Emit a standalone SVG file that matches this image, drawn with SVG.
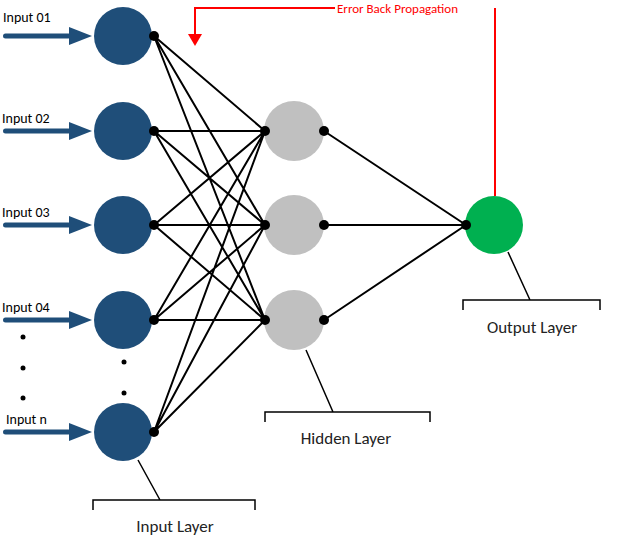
<svg xmlns="http://www.w3.org/2000/svg" width="629" height="538" viewBox="0 0 629 538">
<defs>
<style>
.in{fill:#1f4e79}.hid{fill:#c0c0c0}.out{fill:#00b050}
.c{stroke:#000;stroke-width:2;fill:none}
.br{stroke:#000;stroke-width:1.5;fill:none}
.d{fill:#000}
.t{font-family:Calibri,"Liberation Sans",sans-serif;font-size:14px;fill:#000}
.lt{font-family:Calibri,"Liberation Sans",sans-serif;font-size:17px;fill:#222;text-anchor:middle}
.ar{fill:#1f4e79}
</style>
</defs>
<g id="connectors">
<path class="c" d="M154,36L265,131M154,36L265,225M154,36L265,320M154,131L265,131M154,131L265,225M154,131L265,320M154,225L265,131M154,225L265,225M154,225L265,320M154,320L265,131M154,320L265,225M154,320L265,320M154,432L265,131M154,432L265,225M154,432L265,320M324,131L466,225M324,225L466,225M324,320L466,225"/>
<path d="M495,196V8M335,8H195V36" stroke="#ff0000" stroke-width="2" fill="none"/>
<polygon points="188,34 202,34 195,46" fill="#ff0000"/>
</g>
<g id="input-arrows">
<g id="arrow1"><rect x="3" y="33.5" width="68" height="5" rx="2.5" class="ar"/><polygon class="ar" points="69,27 92,36 69,45"/></g>
<g id="arrow2"><rect x="3" y="128.5" width="68" height="5" rx="2.5" class="ar"/><polygon class="ar" points="69,122 92,131 69,140"/></g>
<g id="arrow3"><rect x="3" y="222.5" width="68" height="5" rx="2.5" class="ar"/><polygon class="ar" points="69,216 92,225 69,234"/></g>
<g id="arrow4"><rect x="3" y="317.5" width="68" height="5" rx="2.5" class="ar"/><polygon class="ar" points="69,311 92,320 69,329"/></g>
<g id="arrow5"><rect x="3" y="429.5" width="68" height="5" rx="2.5" class="ar"/><polygon class="ar" points="69,423 92,432 69,441"/></g>
</g>
<g id="in1"><circle class="in" cx="123" cy="36" r="29"/><circle class="d" cx="154" cy="36" r="5"/><text class="t" x="3" y="22">Input 01</text></g>
<g id="in2"><circle class="in" cx="123" cy="131" r="29"/><circle class="d" cx="154" cy="131" r="5"/><text class="t" x="2" y="123">Input 02</text></g>
<g id="in3"><circle class="in" cx="123" cy="225" r="29"/><circle class="d" cx="154" cy="225" r="5"/><text class="t" x="2" y="217">Input 03</text></g>
<g id="in4"><circle class="in" cx="123" cy="320" r="29"/><circle class="d" cx="154" cy="320" r="5"/><text class="t" x="2" y="312">Input 04</text></g>
<g id="inn"><circle class="in" cx="123" cy="432" r="29"/><circle class="d" cx="154" cy="432" r="5"/><text class="t" x="6" y="424">Input n</text></g>
<g id="ellipsis"><circle class="d" cx="23" cy="337" r="2.5"/><circle class="d" cx="23" cy="368" r="2.5"/><circle class="d" cx="23" cy="398" r="2.5"/><circle class="d" cx="124" cy="362" r="2.5"/><circle class="d" cx="124" cy="393" r="2.5"/></g>
<g id="h1"><circle class="hid" cx="294" cy="131" r="30"/><circle class="d" cx="265" cy="131" r="5"/><circle class="d" cx="324" cy="131" r="5"/></g>
<g id="h2"><circle class="hid" cx="294" cy="225" r="30"/><circle class="d" cx="265" cy="225" r="5"/><circle class="d" cx="324" cy="225" r="5"/></g>
<g id="h3"><circle class="hid" cx="294" cy="320" r="30"/><circle class="d" cx="265" cy="320" r="5"/><circle class="d" cx="324" cy="320" r="5"/></g>
<g id="out"><circle class="out" cx="494" cy="225" r="29"/><circle class="d" cx="466" cy="225" r="5"/></g>
<g id="error-label"><text x="337" y="13" font-family="Calibri,'Liberation Sans',sans-serif" font-size="13" fill="#ff0000">Error Back Propagation</text></g>
<g id="input-layer"><path class="br" d="M138,460L160,500M93,510V500H255V510"/><text class="lt" x="175" y="532">Input Layer</text></g>
<g id="hidden-layer"><path class="br" d="M306,350L333,412M265,422V412H430V422"/><text class="lt" x="346" y="444">Hidden Layer</text></g>
<g id="output-layer"><path class="br" d="M508,252L530,300M463,310V300H600V310"/><text class="lt" x="532" y="333">Output Layer</text></g>
</svg>
